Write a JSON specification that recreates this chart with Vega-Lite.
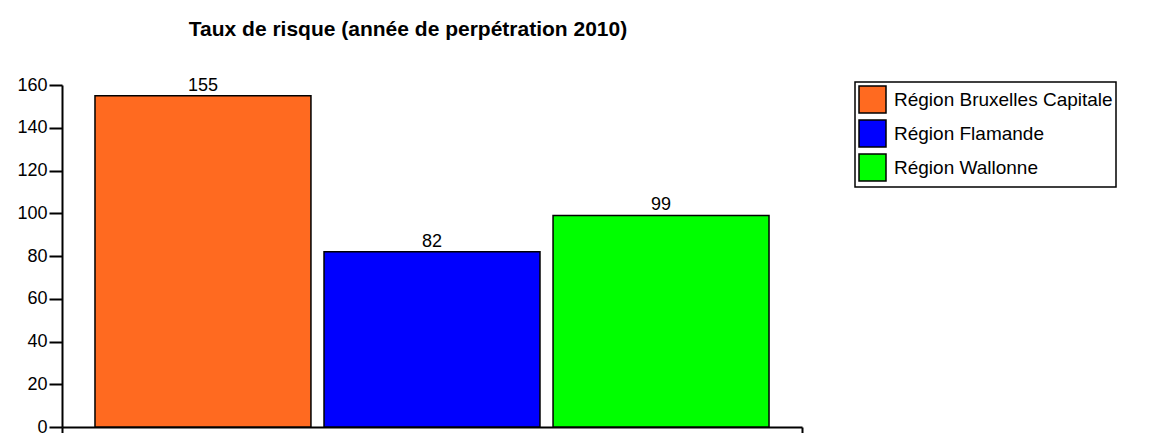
{
  "$schema": "https://vega.github.io/schema/vega-lite/v6.json",
  "autosize": {"type": "none"},
  "padding": {"left": 62, "top": 85, "right": 347, "bottom": 6},
  "width": 740,
  "height": 342,
  "background": "white",
  "config": {
    "font": "Liberation Sans",
    "view": {"stroke": null},
    "legend": {"strokeWidth": 1.5}
  },
  "title": {
    "text": "Taux de risque (année de perpétration 2010)",
    "font": "Liberation Sans",
    "fontSize": 21,
    "fontWeight": "bold",
    "color": "black",
    "anchor": "middle",
    "dx": -24,
    "baseline": "alphabetic",
    "offset": 19
  },
  "data": {
    "values": [
      {"annee": "2010", "region": "Région Bruxelles Capitale", "taux": 155},
      {"annee": "2010", "region": "Région Flamande", "taux": 82},
      {"annee": "2010", "region": "Région Wallonne", "taux": 99}
    ]
  },
  "encoding": {
    "x": {
      "field": "annee",
      "type": "nominal",
      "scale": {"paddingInner": 0, "paddingOuter": 0},
      "axis": {
        "title": null,
        "labels": false,
        "tickBand": "extent",
        "domainColor": "black",
        "domainWidth": 2,
        "tickColor": "black",
        "tickWidth": 2,
        "tickSize": 8
      }
    },
    "xOffset": {
      "field": "region",
      "type": "nominal",
      "sort": null,
      "scale": {"paddingInner": 0.057, "paddingOuter": 0.144}
    },
    "y": {
      "field": "taux",
      "type": "quantitative",
      "scale": {"domain": [0, 160], "nice": false},
      "axis": {
        "title": null,
        "values": [0, 20, 40, 60, 80, 100, 120, 140, 160],
        "grid": false,
        "domainColor": "black",
        "domainWidth": 2,
        "tickColor": "black",
        "tickWidth": 2,
        "tickSize": 13,
        "labelFont": "Liberation Sans",
        "labelFontSize": 18,
        "labelColor": "black",
        "labelPadding": 2
      }
    }
  },
  "layer": [
    {
      "mark": {"type": "bar", "stroke": "black", "strokeWidth": 1.5},
      "encoding": {
        "color": {
          "field": "region",
          "type": "nominal",
          "sort": null,
          "scale": {
            "domain": ["Région Bruxelles Capitale", "Région Flamande", "Région Wallonne"],
            "range": ["#FF6A20", "#0000FF", "#00FF00"]
          },
          "legend": {
            "title": null,
            "orient": "none",
            "legendX": 793,
            "legendY": -3,
            "strokeColor": "black",
            "fillColor": "white",
            "padding": 3,
            "symbolType": "square",
            "symbolSize": 729,
            "symbolStrokeColor": "black",
            "symbolStrokeWidth": 1.5,
            "symbolOpacity": 1,
            "labelFont": "Liberation Sans",
            "labelFontSize": 19,
            "labelColor": "black",
            "labelOffset": 7,
            "rowPadding": 1,
            "labelLimit": 400
          }
        }
      }
    },
    {
      "mark": {"type": "text", "baseline": "bottom", "dy": -1, "fontSize": 18, "font": "Liberation Sans", "color": "black"},
      "encoding": {
        "text": {"field": "taux", "type": "quantitative"}
      }
    }
  ]
}
